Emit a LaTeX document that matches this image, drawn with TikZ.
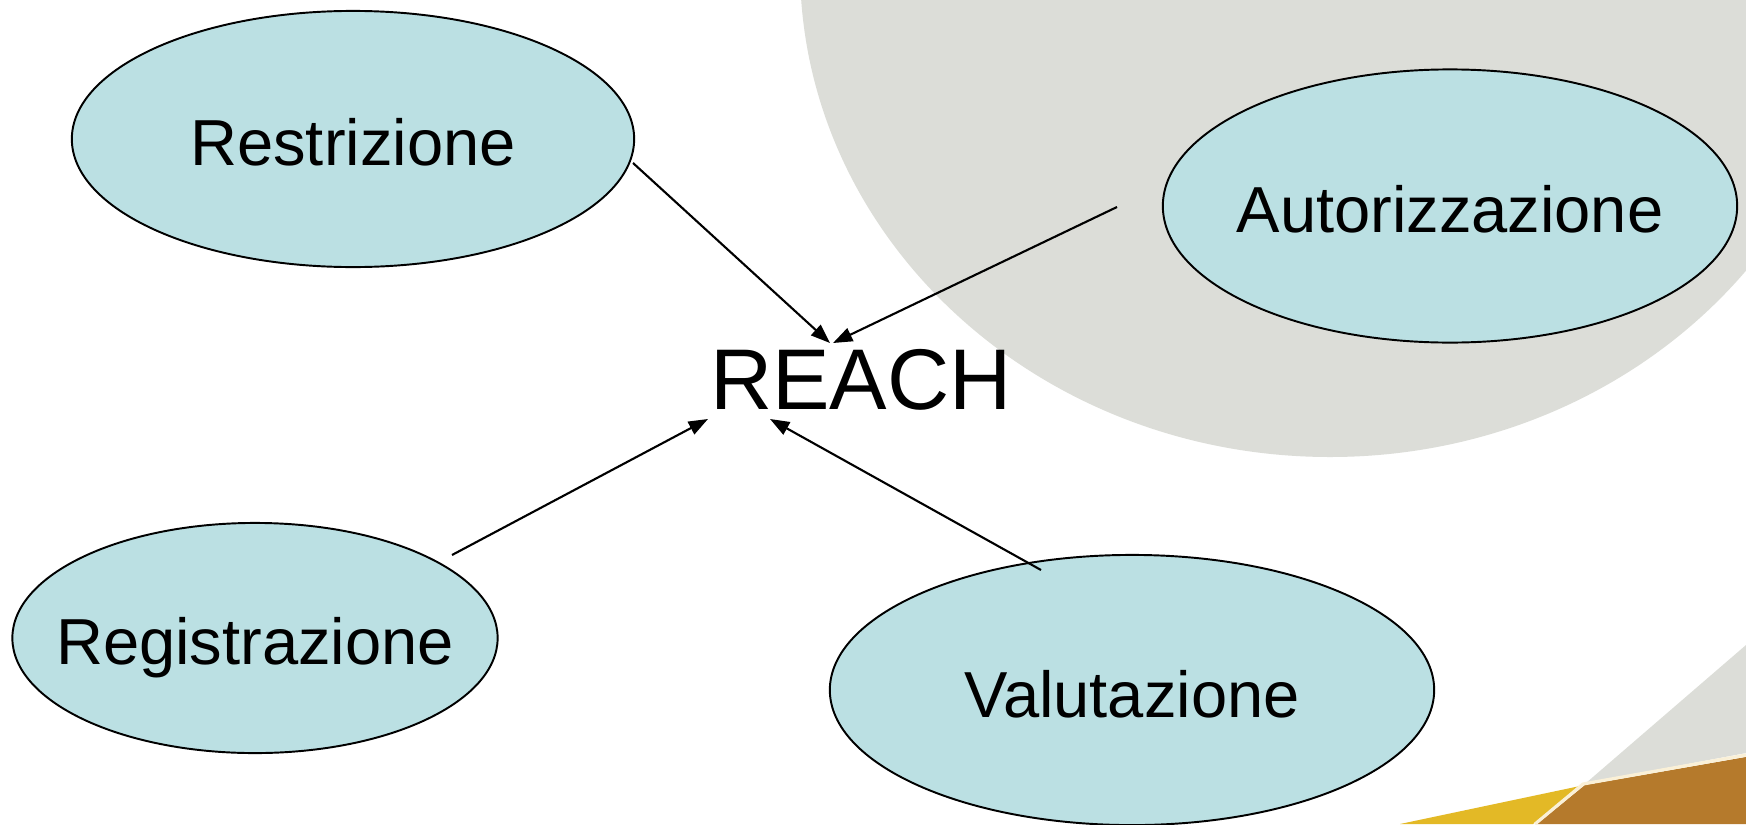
\documentclass[tikz,border=0pt]{standalone}
\usepackage{fontspec}
\setmainfont{Liberation Sans}
\usetikzlibrary{shapes.geometric,arrows.meta}
\definecolor{bggray}{RGB}{220,221,216}
\definecolor{nodefill}{RGB}{187,224,227}
\definecolor{goldb}{RGB}{181,122,44}
\definecolor{goldy}{RGB}{227,185,38}
\definecolor{creamline}{RGB}{250,240,215}
\begin{document}
\begin{tikzpicture}[x=0.01cm,y=-0.01cm,
  topic/.style={ellipse, draw=black, line width=0.55pt, fill=nodefill, inner sep=0pt},
  topictext/.style={inner sep=0pt, text depth=0pt, font=\fontsize{18.5}{22}\selectfont},
  link/.style={line width=0.6pt, -{Triangle[length=5.5pt,width=4pt]}}]
\fill[white] (0,0) rectangle (1746,824);
\useasboundingbox (0,0) rectangle (1746,824);
\begin{scope}
  \clip (0,0) rectangle (1746,824);
  \fill[bggray] (1330,-33) ellipse [x radius=530, y radius=490];
\end{scope}
% bottom-right decoration
\fill[bggray] (1586,783) -- (1746,645) -- (1746,753) -- cycle;
\fill[goldb] (1585,785) -- (1746,757) -- (1746,824) -- (1537,824) -- cycle;
\fill[goldy] (1400,824) -- (1580,786) -- (1533,824) -- cycle;
\draw[creamline, line width=0.9pt] (1746,755) -- (1583,784) -- (1535,824);
% nodes
\node[topic, minimum width=5.62cm, minimum height=2.56cm] (restr) at (353,139) {};
\node[topictext] (restr-t) at (353,142) {Restrizione};
\node[topic, minimum width=5.74cm, minimum height=2.73cm] (autor) at (1450,206) {};
\node[topictext] (autor-t) at (1450,209) {Autorizzazione};
\node[topic, minimum width=4.85cm, minimum height=2.30cm] (regis) at (255,638) {};
\node[topictext] (regis-t) at (255,641) {Registrazione};
\node[topic, minimum width=6.04cm, minimum height=2.70cm] (valut) at (1132,690) {};
\node[topictext] (valut-t) at (1132,694) {Valutazione};
\node[font=\fontsize{24.5}{29}\selectfont, inner sep=0pt] (reach) at (861,380) {REACH};
% connector ends
\coordinate (s1) at (633,163); \coordinate (e1) at (830,343);
\coordinate (s2) at (1117,207); \coordinate (e2) at (833,343);
\coordinate (s3) at (452,555); \coordinate (e3) at (708,419);
\coordinate (s4) at (1041,570); \coordinate (e4) at (770,419);
\draw[link] (s1) -- (e1);
\draw[link] (s2) -- (e2);
\draw[link] (s3) -- (e3);
\draw[link] (s4) -- (e4);
\end{tikzpicture}
\end{document}
